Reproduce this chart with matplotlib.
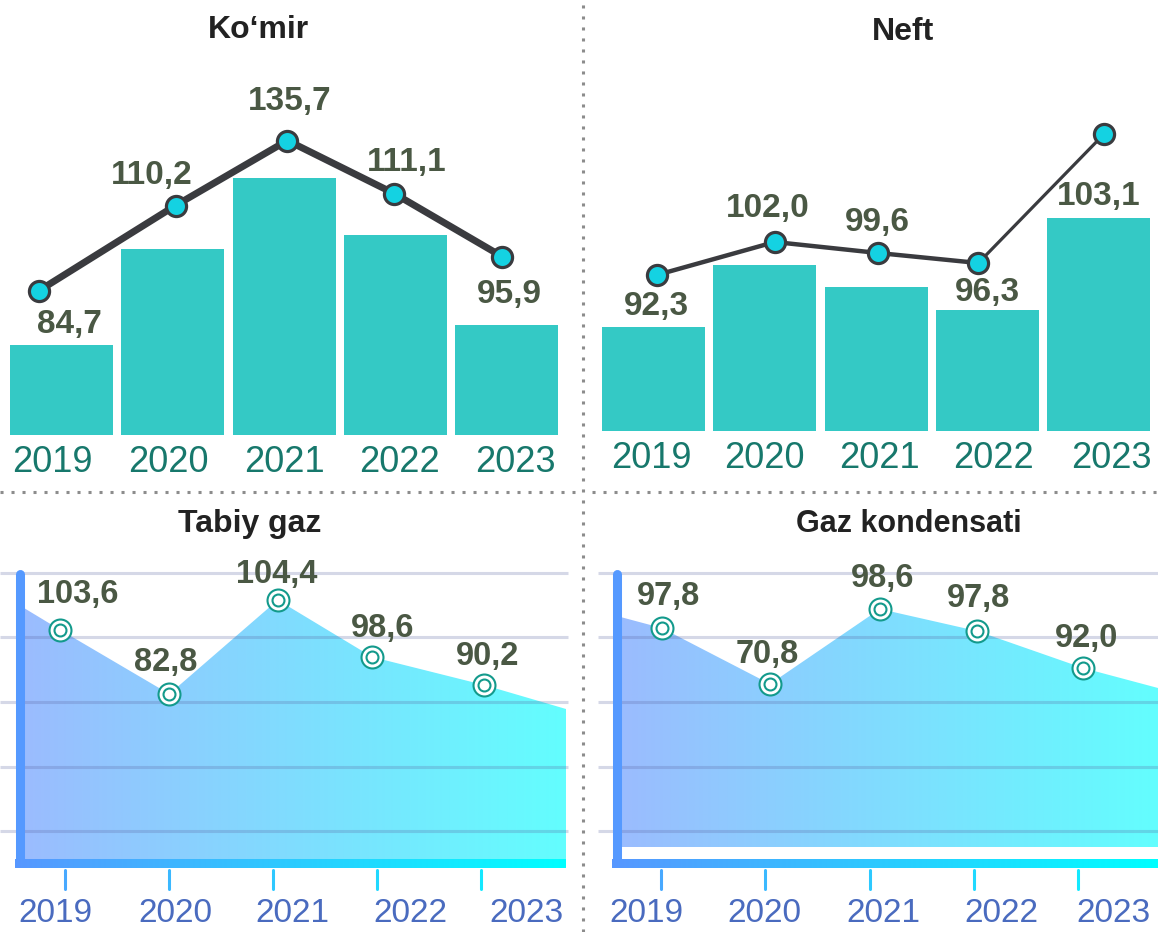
import numpy as np
import matplotlib
matplotlib.use("Agg")
import matplotlib.pyplot as plt
from matplotlib.colors import LinearSegmentedColormap
from matplotlib.lines import Line2D
from matplotlib.patches import Polygon, FancyBboxPatch

plt.rcParams['font.family'] = ['Liberation Sans', 'DejaVu Sans']

# ---------------- data ----------------
years = ["2019", "2020", "2021", "2022", "2023"]

komir_title = "Ko\u2018mir"
komir_bars = [90, 186, 257, 200, 110]          # relative bar heights
komir_values = [84.7, 110.2, 135.7, 111.1, 95.9]
komir_line = [144, 229, 294, 241, 178]         # drawn level of line points

neft_title = "Neft"
neft_bars = [104, 166, 144, 121, 213]
neft_values = [92.3, 102.0, 99.6, 96.3, 103.1]
neft_line = [156, 189, 178, 168, 297]

gaz_title = "Tabiy gaz"
gaz_values = [103.6, 82.8, 104.4, 98.6, 90.2]
gaz_area = [232, 168, 262, 205, 177]           # drawn level of area points
gaz_edges = [254, 153]                         # area level at left / right edge

kond_title = "Gaz kondensati"
kond_values = [97.8, 70.8, 98.6, 97.8, 92.0]
kond_area = [234, 178, 253, 231, 194]
kond_edges = [245, 174]

grid_levels = [31, 95, 160, 225, 289]

# ---------------- style ----------------
W, H = 1158, 932
PX = 0.72  # points per pixel
BAR = '#34c9c5'
LINE = '#3a3b3f'
MARK = '#14d2e2'
LBL = '#4a5844'
TITLE = '#222222'
YEAR_TOP = '#17786c'
YEAR_BOT = '#4a6bbf'
TEAL = '#139a8c'

area_cmap = LinearSegmentedColormap.from_list('area', ['#9bbcfe', '#63fefe'])
axis_cmap = LinearSegmentedColormap.from_list('axis', ['#5797ff', '#00ffff'])

fig = plt.figure(figsize=(W / 100, H / 100), dpi=100)


def fmt(v):
    return f"{v:.1f}".replace(".", ",")


def add_ax(l, t, r, b):
    ax = fig.add_axes([l / W, 1 - b / H, (r - l) / W, (b - t) / H])
    ax.set_axis_off()
    return ax


def bar_panel(center0, base_px, bars, line, values, line_dx, label_off,
              year_pos, lw, last_lw):
    step = 111.25
    ax = add_ax(center0 - step / 2, base_px - 400, center0 + 4.5 * step, base_px)
    x = np.arange(len(years))
    ax.bar(x, bars, width=103 / step, color=BAR, zorder=1)
    lx = x + np.array(line_dx)
    ly = np.array(line)
    ax.plot(lx[:-1], ly[:-1], color=LINE, lw=lw, zorder=3,
            solid_joinstyle='round', solid_capstyle='round')
    ax.plot(lx[-2:], ly[-2:], color=LINE, lw=last_lw, zorder=3,
            solid_capstyle='round')
    ax.plot(lx, ly, 'o', ms=14.5, mfc=MARK, mec=LINE, mew=2.3, zorder=4)
    for i, v in enumerate(values):
        dx, dy = label_off[i]
        ax.annotate(fmt(v), (lx[i], ly[i]), xytext=(dx * PX, -dy * PX),
                    textcoords='offset points', ha='center', va='center',
                    fontsize=24, fontweight='bold', color=LBL, zorder=5)
    for i, yr in enumerate(years):
        ax.text(year_pos[i], -28, yr, ha='center', va='center', fontsize=26,
                color=YEAR_TOP)
    ax.set_xlim(-0.5, 4.5)
    ax.set_ylim(0, 400)


def area_panel(tick0, step, left_px, right_px, axis_px, area_l, area_r,
               base, values, area, edges, mark_dx, label_off, year_px,
               grid_l, grid_r, axis_end, round_end):
    ax = add_ax(left_px, 540, right_px, 932)
    X = lambda p: (np.asarray(p, dtype=float) - tick0) / step
    x = np.arange(len(years))
    xm = x + np.array(mark_dx)
    xl, xr = X(area_l), X(area_r)
    verts = [(xl, edges[0])] + list(zip(xm, area)) + [(xr, edges[1]), (xr, base), (xl, base)]
    grad = np.linspace(0, 1, 256).reshape(1, -1)
    im = ax.imshow(grad, extent=[xl, xr, base, 300], aspect='auto',
                   cmap=area_cmap, origin='lower', interpolation='bilinear',
                   zorder=1)
    poly = Polygon(verts, closed=True, facecolor='none', edgecolor='none')
    ax.add_patch(poly)
    im.set_clip_path(poly)
    # grid
    ax.hlines(grid_levels, X(grid_l), X(grid_r), colors='#5a64a0', alpha=0.25,
              lw=2.2, zorder=2)
    # vertical axis
    xa = X(axis_px)
    ax.plot([xa, xa], [-1, 288], color='#5599ff', lw=6.5,
            solid_capstyle='round', zorder=3)
    # bottom gradient axis (image clipped to a rounded bar)
    x0, x1 = X(axis_px - 4.5), X(axis_end)
    im2 = ax.imshow(grad, extent=[x0, x1, -6, 3], aspect='auto',
                    cmap=axis_cmap, origin='lower', interpolation='bilinear',
                    zorder=3)
    if round_end:
        bar = FancyBboxPatch((x0, -6), x1 - x0, 9,
                             boxstyle='round,pad=0,rounding_size=0.04',
                             mutation_aspect=4.5 / 0.04 / step,
                             facecolor='none', edgecolor='none')
    else:
        bar = FancyBboxPatch((x0, -6), x1 - x0, 9, boxstyle='square,pad=0',
                             facecolor='none', edgecolor='none')
    ax.add_patch(bar)
    im2.set_clip_path(bar)
    # ticks
    frac = (x - x0) / (x1 - x0)
    tc = ax.vlines(x, -8, -27, colors=axis_cmap(frac * 0.8 + 0.1), lw=2.2,
                   zorder=3)
    tc.set_capstyle('round')
    # markers
    ax.scatter(xm, area, s=15.8 ** 2, facecolor='white', edgecolor=TEAL,
               linewidth=1.5, zorder=5)
    ax.scatter(xm, area, s=8.6 ** 2, facecolor='white', edgecolor=TEAL,
               linewidth=1.5, zorder=6)
    for i, v in enumerate(values):
        dx, dy = label_off[i]
        ax.annotate(fmt(v), (xm[i], area[i]), xytext=(dx * PX, -dy * PX),
                    textcoords='offset points', ha='center', va='center',
                    fontsize=23.5, fontweight='bold', color=LBL, zorder=7)
    for i, yr in enumerate(years):
        ax.text(X(year_px[i]), -51, yr, ha='center', va='center', fontsize=24,
                color=YEAR_BOT)
    ax.set_xlim(X(left_px), X(right_px))
    ax.set_ylim(-70, 322)


# ---- top panels ----
bar_panel(61.5, 434.5, komir_bars, komir_line, komir_values,
          line_dx=[-0.2, 0.025, 0.03, -0.01, -0.04],
          label_off=[(30, 34), (-24, -30), (2, -39), (13, -31), (7, 38)],
          year_pos=[-0.08, 0.96, 2.0, 3.04, 4.08], lw=5.0, last_lw=5.0)

bar_panel(653.5, 431, neft_bars, neft_line, neft_values,
          line_dx=[0.03, 0.09, 0.02, -0.08, 0.05],
          label_off=[(0, 32), (-7, -34), (-1, -30), (9, 30), (-5, 62)],
          year_pos=[-0.02, 1.0, 2.03, 3.06, 4.12], lw=3.2, last_lw=2.3)

# ---- bottom panels ----
area_panel(65, 104, 0, 580, 19.5, 24, 566, 0, gaz_values, gaz_area,
           gaz_edges, mark_dx=[-0.044, 0.003, 0.046, -0.046, 0.029],
           label_off=[(17, -35), (-4, -31), (-1, -25), (10, -28), (4, -28)],
           year_px=[55, 175, 292, 410, 526], grid_l=0, grid_r=568,
           axis_end=566, round_end=True)

area_panel(661, 104.25, 590, 1158, 616.5, 620.5, 1158, 15, kond_values,
           kond_area, kond_edges, mark_dx=[0.007, 0.046, 0.1, 0.031, 0.048],
           label_off=[(7, -32), (-3, -30), (3, -31), (2, -32), (4, -29)],
           year_px=[646, 764, 883, 1001, 1113], grid_l=598, grid_r=1158,
           axis_end=1158, round_end=False)

# ---- titles ----
for txt, xp, yp, fs in [(komir_title, 258, 30, 23), (neft_title, 903, 32, 23),
                        (gaz_title, 250, 524, 23), (kond_title, 909, 524, 22)]:
    fig.text(xp / W, 1 - yp / H, txt, ha='center', va='center', fontsize=fs,
             fontweight='bold', color=TITLE)

# ---- dotted dividers ----
dstyle = dict(color='#8c8c8c', lw=2.2, linestyle=(0, (1, 2.6)),
              transform=fig.transFigure)
fig.add_artist(Line2D([583 / W, 583 / W], [0, 1], **dstyle))
fig.add_artist(Line2D([0, 575 / W], [1 - 491.5 / H] * 2, **dstyle))
fig.add_artist(Line2D([592 / W, 1], [1 - 491.5 / H] * 2, **dstyle))

fig.savefig("out.png", dpi=100)
